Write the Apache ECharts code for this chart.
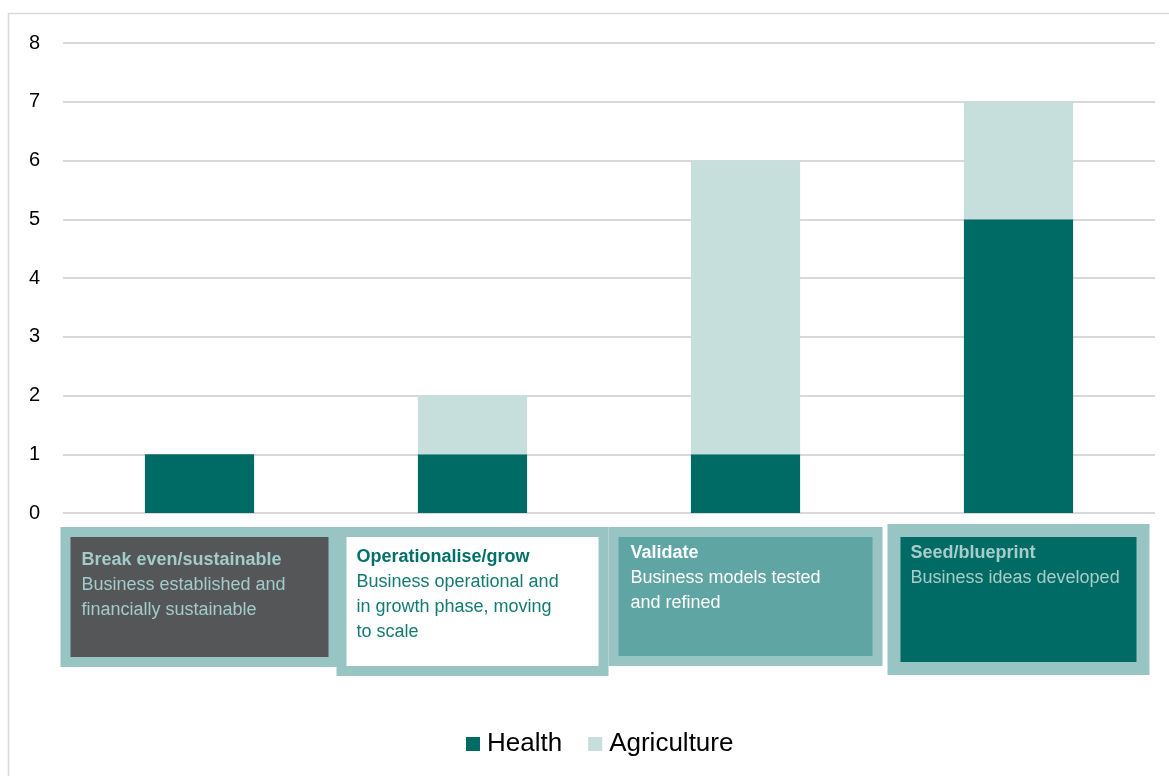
<!DOCTYPE html>
<html>
<head>
<meta charset="utf-8">
<script src="https://cdn.jsdelivr.net/npm/echarts@6/dist/echarts.min.js"></script>
<style>
html,body{margin:0;padding:0;background:#fff;}
#chart{width:1169px;height:776px;}
</style>
</head>
<body>
<div id="chart"></div>
<script>
// ---- data ----
const stageTitles = ['Break even/sustainable', 'Operationalise/grow', 'Validate', 'Seed/blueprint'];
const stageDescriptions = [
  ['Business established and', 'financially sustainable'],
  ['Business operational and', 'in growth phase, moving', 'to scale'],
  ['Business models tested', 'and refined'],
  ['Business ideas developed']
];
const healthValues = [1, 1, 1, 5];
const agricultureValues = [0, 1, 5, 2];
const seriesNames = ['Health', 'Agriculture'];
const yTicks = [0, 1, 2, 3, 4, 5, 6, 7, 8];

// ---- styles ----
const HEALTH = '#006b65';
const AGRI = '#c6dfdc';
const BORDER = '#98c5c3';
const FONT = "'Liberation Sans', Arial, sans-serif";

const boxStyles = [
  { bg: '#555658', title: '#a3cbca', desc: '#a3cbca', w: 247, h: 109, pad: [11, 0, 0, 11], bw: 10 },
  { bg: '#ffffff', title: '#00706a', desc: '#147a72', w: 242, h: 121, pad: [8, 0, 0, 10], bw: 10 },
  { bg: '#5fa5a4', title: '#ffffff', desc: '#ffffff', w: 242, h: 115, pad: [4, 0, 0, 12], bw: 10 },
  { bg: '#006b65', title: '#a6cdc9', desc: '#a6cdc9', w: 226, h: 121, pad: [4, 0, 0, 10], bw: 13 }
];

const rich = {};
boxStyles.forEach((s, i) => {
  rich['t' + i] = { fontFamily: FONT, fontWeight: 'bold', fontSize: 18, color: s.title, lineHeight: 25, align: 'left' };
  rich['d' + i] = { fontFamily: FONT, fontSize: 18, color: s.desc, lineHeight: 25, align: 'left' };
});

const categories = stageTitles.map((t, i) => {
  const s = boxStyles[i];
  const txt = '{t' + i + '|' + t + '}\n' + stageDescriptions[i].map(d => '{d' + i + '|' + d + '}').join('\n');
  return {
    value: txt,
    textStyle: {
      backgroundColor: s.bg,
      borderColor: BORDER,
      borderWidth: s.bw,
      padding: s.pad,
      width: s.w,
      height: s.h,
      align: 'center',
      verticalAlign: 'top'
    }
  };
});

const chart = echarts.init(document.getElementById('chart'), null, { renderer: 'canvas' });
chart.setOption({
  animation: false,
  backgroundColor: '#fff',
  graphic: [{
    type: 'rect',
    shape: { x: 8.5, y: 13.5, width: 1200, height: 800 },
    style: { fill: 'none', stroke: '#d9d9d9', lineWidth: 1.5 },
    silent: true, z: -10
  }],
  grid: { left: 63, right: 14, top: 43, bottom: 263, containLabel: false },
  legend: {
    bottom: 14,
    left: 461,
    itemWidth: 14,
    itemHeight: 14,
    itemGap: 26,
    icon: 'rect',
    textStyle: { fontFamily: FONT, fontSize: 26, color: '#000', padding: [0, 0, 0, 2] },
    data: seriesNames
  },
  xAxis: {
    type: 'category',
    data: categories,
    axisLine: { show: false },
    axisTick: { show: false },
    axisLabel: { interval: 0, margin: 24, rich: rich }
  },
  yAxis: {
    type: 'value',
    min: yTicks[0],
    max: yTicks[yTicks.length - 1],
    interval: 1,
    axisLine: { show: false },
    axisTick: { show: false },
    axisLabel: { margin: 23, fontFamily: FONT, fontSize: 20, color: '#000' },
    splitLine: { lineStyle: { color: '#d9d9d9', width: 2 } }
  },
  series: [
    { name: seriesNames[0], type: 'bar', stack: 'total', data: healthValues, barWidth: '40%', itemStyle: { color: HEALTH } },
    { name: seriesNames[1], type: 'bar', stack: 'total', data: agricultureValues, barWidth: '40%', itemStyle: { color: AGRI } }
  ]
});
</script>
</body>
</html>
